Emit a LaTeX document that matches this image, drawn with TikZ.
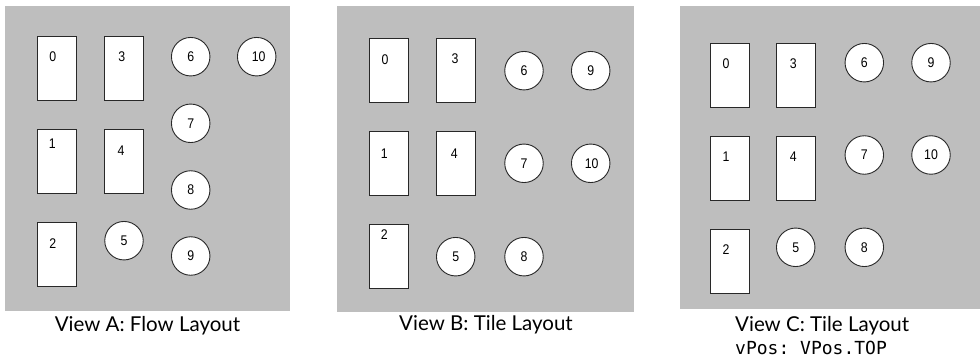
\documentclass[tikz,border=0pt]{standalone}
\usepackage{fontspec}
\setmainfont{Lato}
\newfontfamily\numfont{Liberation Sans}
\setmonofont{DejaVu Sans Mono}
\definecolor{panelgray}{RGB}{190,190,190}
\definecolor{edgecol}{RGB}{40,40,40}
\tikzset{
  panel/.style={fill=panelgray},
  rbox/.style={draw=edgecol, fill=white, line width=0.9pt, minimum width=39pt, minimum height=64pt, inner sep=0pt},
  cbox/.style={circle, draw=edgecol, fill=white, line width=0.9pt, minimum size=38.5pt, inner sep=0pt},
  num/.style={inner sep=0pt, xscale=0.88, font=\numfont\fontsize{14}{14}\selectfont},
  captext/.style={inner sep=0pt, anchor=base, font=\fontsize{20.5}{20.5}\selectfont},
  monotext/.style={inner sep=0pt, anchor=base west, font=\ttfamily\fontsize{18}{18}\selectfont}
}
\begin{document}
\begin{tikzpicture}[x=1pt,y=-1pt]
\useasboundingbox (0,0) rectangle (980,363);
% panels
\fill[panel] (5,6) rectangle (290,311);
\fill[panel] (337,6) rectangle (634,312);
\fill[panel] (680,6) rectangle (980,309);

% ---------- View A ----------
\node[rbox] (a0) at (56.8,68.8) {};
\node[rbox] (a3) at (123.8,68.8) {};
\node[rbox] (a1) at (56.8,161.3) {};
\node[rbox] (a4) at (123.8,161.3) {};
\node[rbox] (a2) at (56.8,254.8) {};
\node[num] (a0l) at (52.7,56.7) {0};
\node[num] (a3l) at (121.7,56.7) {3};
\node[num] (a1l) at (52.3,144) {1};
\node[num] (a4l) at (121,151) {4};
\node[num] (a2l) at (52.7,243.7) {2};
\node[cbox] (a6) at (190.7,56.7) {};
\node[cbox] (a10) at (256.7,56.7) {};
\node[cbox] (a7) at (190.7,123.3) {};
\node[cbox] (a8) at (190.7,190) {};
\node[cbox] (a9) at (190.7,256) {};
\node[cbox] (a5) at (124,240.7) {};
\node[num] at (a6) {6};
\node[num] at ([xshift=2pt]a10.center) {10};
\node[num] at (a7) {7};
\node[num] at (a8) {8};
\node[num] at (a9) {9};
\node[num] at (a5) {5};
\node[captext] (capa) at (147.5,331.7) {View A: Flow Layout};

% ---------- View B ----------
\node[rbox] (b0) at (388.8,70.7) {};
\node[rbox] (b3) at (455.8,70.7) {};
\node[rbox] (b1) at (388.8,163) {};
\node[rbox] (b4) at (455.8,163) {};
\node[rbox] (b2) at (388.8,256.8) {};
\node[num] (b0l) at (385,60) {0};
\node[num] (b3l) at (455,58.3) {3};
\node[num] (b1l) at (384.3,154) {1};
\node[num] (b4l) at (454.3,153.3) {4};
\node[num] (b2l) at (384.3,235) {2};
\node[cbox] (b6) at (524,70.7) {};
\node[cbox] (b9) at (590.7,70.7) {};
\node[cbox] (b7) at (524,163.3) {};
\node[cbox] (b10) at (590.7,163.3) {};
\node[cbox] (b5) at (455.7,256.7) {};
\node[cbox] (b8) at (524,256.7) {};
\node[num] at (b6) {6};
\node[num] at (b9) {9};
\node[num] at (b7) {7};
\node[num] at ([xshift=1pt]b10.center) {10};
\node[num] at (b5) {5};
\node[num] at (b8) {8};
\node[captext] (capb) at (486,330.5) {View B: Tile Layout};

% ---------- View C ----------
\node[rbox] (c0) at (729.5,75.8) {};
\node[rbox] (c3) at (796.2,75.8) {};
\node[rbox] (c1) at (729.5,168) {};
\node[rbox] (c4) at (796.2,168) {};
\node[rbox] (c2) at (729.5,261.5) {};
\node[num] (c0l) at (726,63.3) {0};
\node[num] (c3l) at (793.3,63.3) {3};
\node[num] (c1l) at (726,156.7) {1};
\node[num] (c4l) at (793.3,156.7) {4};
\node[num] (c2l) at (726,250) {2};
\node[cbox] (c6) at (864.3,62.7) {};
\node[cbox] (c9) at (931,62.7) {};
\node[cbox] (c7) at (864.3,155) {};
\node[cbox] (c10) at (931,155) {};
\node[cbox] (c5) at (795.7,247.3) {};
\node[cbox] (c8) at (864.3,247.3) {};
\node[num] at (c6) {6};
\node[num] at (c9) {9};
\node[num] at (c7) {7};
\node[num] at (c10) {10};
\node[num] at (c5) {5};
\node[num] at (c8) {8};
\node[captext, anchor=base west] (capc) at (735,331.7) {View C: Tile Layout};
\node[monotext] (capc2) at (735,354.3) {vPos: VPos.TOP};
\end{tikzpicture}
\end{document}
